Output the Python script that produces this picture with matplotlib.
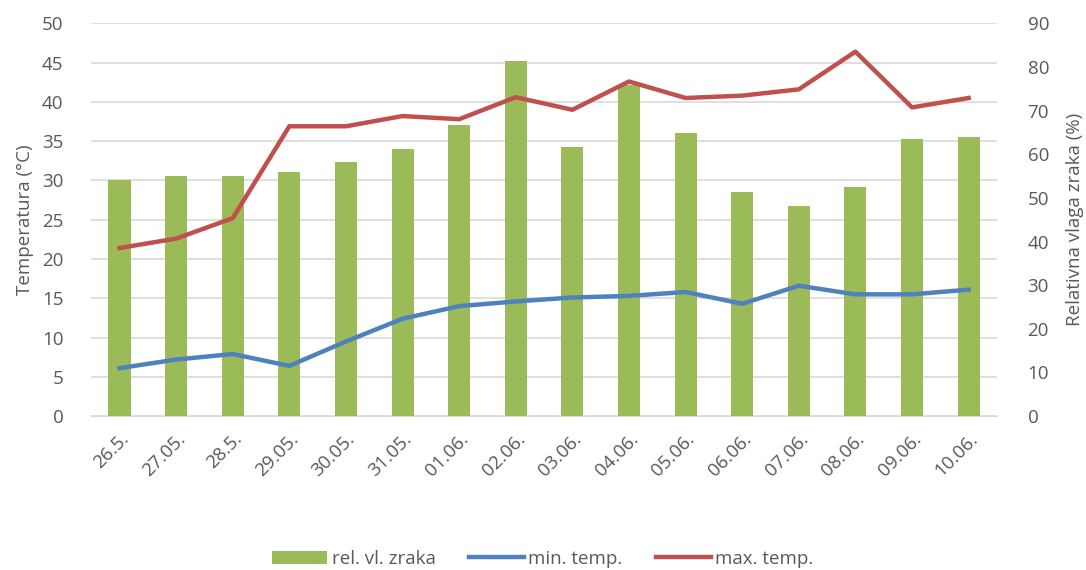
import matplotlib.pyplot as plt
import numpy as np

# Podaci
datumi = ['26.5.', '27.05.', '28.5.', '29.05.', '30.05.', '31.05.', '01.06.', '02.06.',
          '03.06.', '04.06.', '05.06.', '06.06.', '07.06.', '08.06.', '09.06.', '10.06.']
rel_vlaga = [54.1, 55.1, 55.1, 56.0, 58.3, 61.1, 66.7, 81.4,
             61.6, 75.9, 64.8, 51.4, 48.2, 52.4, 63.5, 63.9]
min_temp = [6.1, 7.2, 7.9, 6.4, 9.5, 12.4, 14.0, 14.6,
            15.1, 15.3, 15.8, 14.3, 16.6, 15.5, 15.5, 16.1]
max_temp = [21.4, 22.6, 25.2, 36.9, 36.9, 38.2, 37.8, 40.6,
            39.0, 42.6, 40.5, 40.8, 41.6, 46.4, 39.3, 40.5]

plt.rcParams['font.family'] = ['Open Sans', 'DejaVu Sans']
siva = '#595959'
x = np.arange(len(datumi))

fig = plt.figure(figsize=(10.86, 5.7), dpi=100)
ax1 = fig.add_axes([0.084, 0.27, 0.834, 0.689])

# lijeva os: temperatura (samo mreža i oznake)
ax1.set_ylim(0, 50)
ax1.set_yticks(np.arange(0, 51, 5))
ax1.set_xlim(-0.5, len(datumi) - 0.5)
ax1.grid(axis='y', color='#D9D9D9', linewidth=1.2)
ax1.set_xticks(x)
ax1.set_xticklabels(datumi, rotation=45, ha='right', rotation_mode='anchor')
ax1.set_ylabel('Temperatura (°C)', color=siva, fontsize=13.5, labelpad=6)

# desna os: relativna vlaga (stupci)
ax2 = ax1.twinx()
ax2.bar(x, rel_vlaga, 0.39, color='#9BBB59', label='rel. vl. zraka')
ax2.set_ylim(0, 90)
ax2.set_yticks(np.arange(0, 91, 10))
ax2.set_ylabel('Relativna vlaga zraka (%)', color=siva, fontsize=13.5, labelpad=12)

# linije temperature iznad stupaca
ax3 = ax1.twinx()
ax3.plot(x, min_temp, color='#4F81BD', linewidth=3.2, label='min. temp.')
ax3.plot(x, max_temp, color='#C0504D', linewidth=3.2, label='max. temp.')
ax3.set_ylim(0, 50)
ax3.set_yticks([])

for a in (ax1, ax2, ax3):
    for s in a.spines.values():
        s.set_visible(False)
    a.tick_params(length=0, colors=siva, labelsize=13.5)
ax1.spines['bottom'].set_visible(True)
ax1.spines['bottom'].set_color('#D9D9D9')
ax1.tick_params(axis='x', pad=10)
ax1.tick_params(axis='y', pad=20)
ax2.tick_params(axis='y', pad=22)

h2, l2 = ax2.get_legend_handles_labels()
h3, l3 = ax3.get_legend_handles_labels()
fig.legend(h2 + h3, l2 + l3, loc='lower center', bbox_to_anchor=(0.5, -0.026), ncol=3,
           frameon=False, fontsize=13.5, labelcolor=siva, handlelength=2.9,
           handletextpad=0.25, columnspacing=1.8)

fig.savefig('out.png', dpi=100)
